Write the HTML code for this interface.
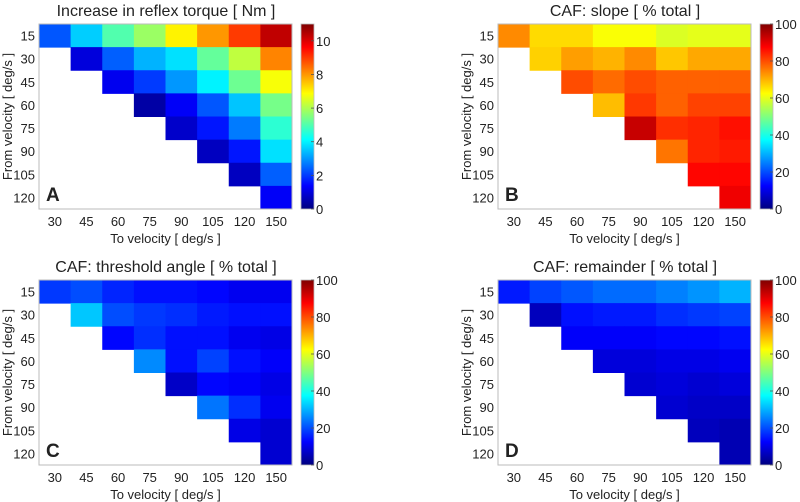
<!DOCTYPE html>
<html><head><meta charset="utf-8"><style>
body{margin:0;background:#fff;font-family:"Liberation Sans",Arial,sans-serif}
svg{display:block}
text{font-family:"Liberation Sans",Arial,sans-serif;fill:#222}
</style></head><body>
<svg id="chart" width="800" height="502" viewBox="0 0 800 502" xmlns="http://www.w3.org/2000/svg">
<defs><linearGradient id="jet" x1="0" y1="1" x2="0" y2="0">
<stop offset="0" stop-color="#00007f"/><stop offset="0.125" stop-color="#0000ff"/><stop offset="0.375" stop-color="#00ffff"/><stop offset="0.625" stop-color="#ffff00"/><stop offset="0.875" stop-color="#ff0000"/><stop offset="1" stop-color="#7f0000"/>
</linearGradient></defs>
</svg>
<script>
const toCats = ["30","45","60","75","90","105","120","150"];
const fromCats = ["15","30","45","60","75","90","105","120"];
const valuesA = [[2.3,3.6,5.0,5.8,7.0,8.0,9.0,10.3],[1.0,2.4,3.3,3.8,5.2,6.2,8.2],[1.2,2.0,3.0,4.0,5.3,6.8],[0.4,1.3,2.3,3.5,5.4],[0.8,1.6,2.7,4.6],[0.7,1.6,3.8],[0.7,2.4],[1.3]];
const valuesB = [[74,66,66,62,62,59,60,60],[67,72,70,74,68,71,71],[80,77,80,78,78,78],[69,82,78,81,81],[93,83,84,86],[76,84,85],[87,87],[89]];
const valuesC = [[18,20,16,14,14,13,11,11],[32,20,18,17,15,14,14],[13,17,14,14,11,10],[26,14,19,14,12],[7,13,12,10],[24,17,11],[10,8],[8]];
const valuesD = [[15,19,21,23,23,25,27,30],[6,14,15,15,17,18,19],[12,12,12,13,13,14],[9,9,10,10,11],[8,9,8,9],[8,7,7],[6,5],[5]];
const ticksA = [0,2,4,6,8,10];
const ticks100 = [0,20,40,60,80,100];

const NS="http://www.w3.org/2000/svg";
const svg=document.getElementById('chart');
function jet(t){t=Math.max(0,Math.min(1,t));
 const f=x=>Math.max(0,Math.min(1,x));
 const r=f(Math.min(4*t-1.5,-4*t+4.5)),g=f(Math.min(4*t-0.5,-4*t+3.5)),b=f(Math.min(4*t+0.5,-4*t+2.5));
 return `rgb(${Math.round(r*255)},${Math.round(g*255)},${Math.round(b*255)})`;}
function mk(tag,attrs,parent){const e=document.createElementNS(NS,tag);for(const k in attrs)e.setAttribute(k,attrs[k]);(parent||svg).appendChild(e);return e;}
function txt(s,attrs,parent){const e=mk('text',attrs,parent);e.textContent=s;return e;}

function panel(key,ox,oy,title,letter,vals,vmax,cbTicks){
 const g=mk('g',{});
 
 
 const L=ox+39,R=ox+292,T=oy+24,B=oy+209;
 const cw=(R-L)/toCats.length,ch=(B-T)/fromCats.length;
 const xPos=i=>L+i*cw, yPos=j=>T+j*ch;
 const t=txt(title,{x:ox+166,y:oy+16,'text-anchor':'middle','font-size':16},g);
 
 
 vals.forEach((row,j)=>{const start=toCats.length-row.length;row.forEach((v,k)=>{
  const i=start+k;
  const c=mk('rect',{x:xPos(i),y:yPos(j),width:cw+0.5,height:ch+0.5,fill:jet(v/vmax)},g);
  
  
 });});
 const fr=mk('rect',{x:L,y:T,width:R-L,height:B-T,fill:'none',stroke:'#bbb','stroke-width':1},g);
 
 
 toCats.forEach((c,i)=>{const e=txt(c,{x:xPos(i)+cw/2,y:B+17,'text-anchor':'middle','font-size':13},g);
  
  });
 fromCats.forEach((c,j)=>{const e=txt(c,{x:L-4,y:yPos(j)+ch/2+5,'text-anchor':'end','font-size':13},g);
  
  });
 const xl=txt('To velocity [ deg/s ]',{x:(L+R)/2,y:B+34,'text-anchor':'middle','font-size':13},g);
 
 
 const yl=txt('From velocity [ deg/s ]',{x:0,y:0,'text-anchor':'middle','font-size':13,transform:`translate(${ox+12},${(T+B)/2}) rotate(-90)`},g);
 
 
 const lt=txt(letter,{x:L+7,y:B-8,'font-size':19,'font-weight':'bold'},g);
 
 
 const cb=mk('rect',{x:ox+301,y:T,width:13,height:B-T,fill:'url(#jet)',stroke:'#bbb','stroke-width':0.8},g);
 
 
 cbTicks.forEach(v=>{const y=B-(v/vmax)*(B-T);
  mk('line',{x1:ox+311,x2:ox+314,y1:y,y2:y,stroke:'#555','stroke-width':0.8},g);
  const e=txt(String(v),{x:ox+316,y:y+5,'font-size':13},g);
  
  });
}
panel('a',0,0,'Increase in reflex torque [ Nm ]','A',valuesA,11,ticksA);
panel('b',459,0,'CAF: slope [ % total ]','B',valuesB,100,ticks100);
panel('c',0,256,'CAF: threshold angle [ % total ]','C',valuesC,100,ticks100);
panel('d',459,256,'CAF: remainder [ % total ]','D',valuesD,100,ticks100);
</script>
</body></html>
